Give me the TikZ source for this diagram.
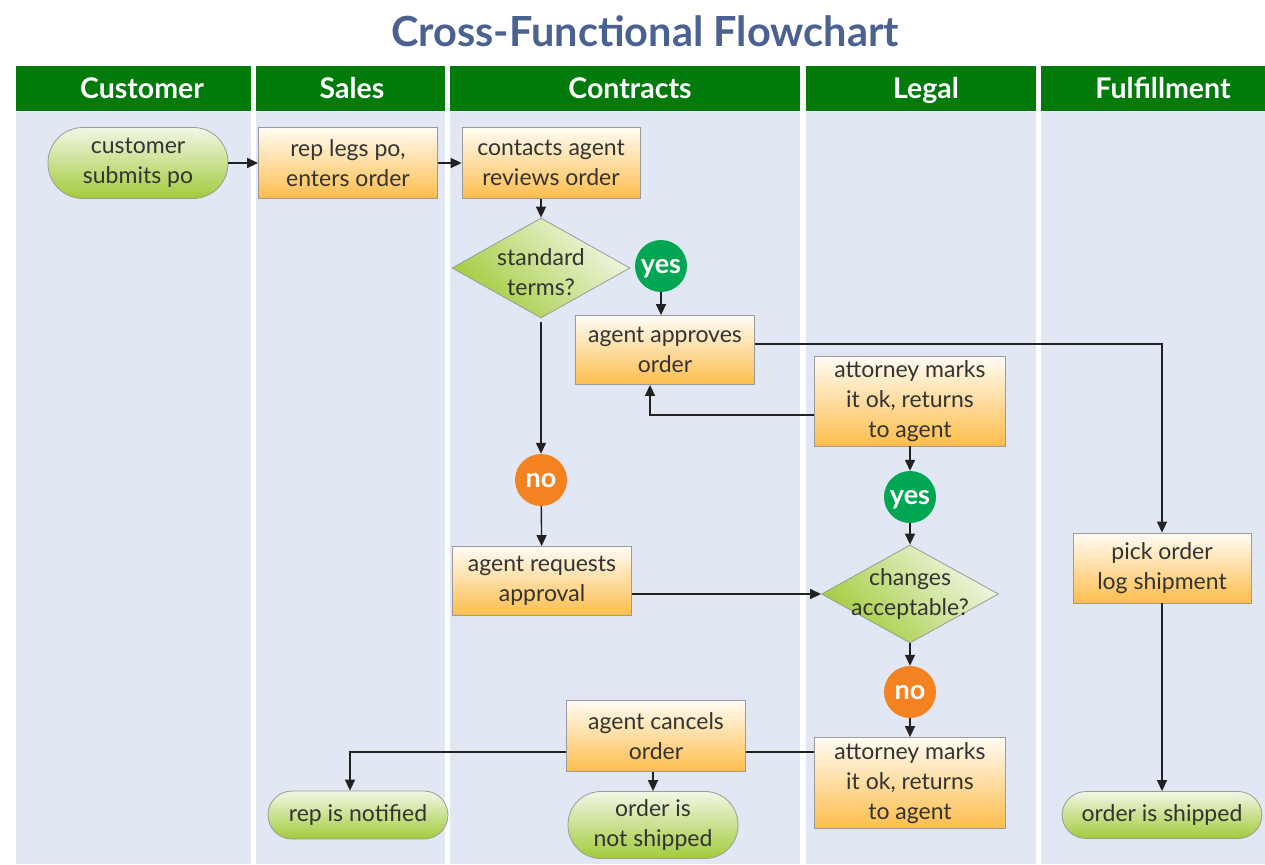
\documentclass[tikz,border=0pt]{standalone}
\usepackage{fontspec}
\setmainfont{Lato}
\usetikzlibrary{arrows.meta,shapes.geometric,shapes.misc,calc}
\definecolor{titleblue}{HTML}{4A6191}
\definecolor{hdrgreen}{HTML}{007A0A}
\definecolor{lanebg}{HTML}{E1E8F4}
\definecolor{txt}{HTML}{333333}
\definecolor{orangeB}{HTML}{FDBD4C}
\definecolor{orangeT}{HTML}{FFFCF4}
\definecolor{greenB}{HTML}{A2CB3A}
\definecolor{greenT}{HTML}{F1F7E6}
\definecolor{yesgreen}{HTML}{00A651}
\definecolor{noorange}{HTML}{F58220}
\definecolor{edgegray}{HTML}{9A9A9A}
\definecolor{linec}{HTML}{222222}
\tikzset{
  lanehdr/.style={fill=hdrgreen},
  lanebody/.style={fill=lanebg},
  hdrtext/.style={anchor=base,text=white,font=\bfseries\fontsize{28.5}{30}\selectfont},
  bodyfont/.style={text=txt,align=center,font=\fontsize{23}{30}\selectfont},
  lowtext/.style={execute at begin node={\rule{0pt}{27pt}}},
  procbox/.style={rectangle,draw=edgegray,line width=0.8pt,top color=orangeT,bottom color=orangeB,
     bodyfont,inner sep=0pt,lowtext},
  termbox/.style={rectangle,rounded corners=24pt,draw=edgegray,line width=0.8pt,top color=greenT,bottom color=greenB,
     bodyfont,inner sep=0pt},
  decbox/.style={diamond,draw=edgegray,line width=0.8pt,shading=axis,left color=greenB,right color=greenT,shading angle=135,
     inner sep=0pt,aspect=1.78},
  dectext/.style={bodyfont},
  yesdot/.style={circle,fill=yesgreen,text=white,font=\bfseries\fontsize{27}{28}\selectfont,minimum size=52pt,inner sep=0pt,text height=14pt,text depth=0pt},
  nodot/.style={circle,fill=noorange,text=white,font=\bfseries\fontsize{27}{28}\selectfont,minimum size=52pt,inner sep=0pt,text height=14pt,text depth=0pt},
  conn/.style={draw=linec,line width=1.4pt},
  arr/.style={conn,-{Triangle[length=11pt,width=10pt]}},
}
\begin{document}
\begin{tikzpicture}[x=1pt,y=-1pt]
\useasboundingbox (0,0) rectangle (1265,864);
\fill[white] (0,0) rectangle (1265,864);
% title
\node[text=titleblue,font=\bfseries\fontsize{41.5}{44}\selectfont] (title) at (645,31) {Cross-Functional Flowchart};
% lanes
\fill[lanehdr] (16,66) rectangle (251,111);
\fill[lanehdr] (256,66) rectangle (445,111);
\fill[lanehdr] (450,66) rectangle (800,111);
\fill[lanehdr] (806,66) rectangle (1036,111);
\fill[lanehdr] (1041,66) rectangle (1265,111);
\fill[lanebody] (16,112) rectangle (251,864);
\fill[lanebody] (256,112) rectangle (445,864);
\fill[lanebody] (450,112) rectangle (800,864);
\fill[lanebody] (806,112) rectangle (1036,864);
\fill[lanebody] (1041,112) rectangle (1265,864);
\node[hdrtext] (h1) at (142,99) {Customer};
\node[hdrtext] (h2) at (352,99) {Sales};
\node[hdrtext] (h3) at (630,99) {Contracts};
\node[hdrtext] (h4) at (926,99) {Legal};
\node[hdrtext] (h5) at (1163,99) {Fulfillment};
% nodes
\node[termbox,lowtext,minimum width=180pt,minimum height=71pt,rounded corners=35pt] (n1) at (138,163) {customer\\submits po};
\node[procbox,minimum width=179pt,minimum height=71pt] (n2) at (348,163) {rep legs po,\\enters order};
\node[procbox,minimum width=178pt,minimum height=71pt] (n3) at (551,163) {contacts agent\\reviews order};
\node[decbox,minimum width=178pt,minimum height=100pt] (d1) at (541,268) {};
\node[dectext] (d1t) at (541,272) {standard\\terms?};
\node[yesdot] (y1) at (661,266) {yes};
\node[procbox,minimum width=179pt,minimum height=69pt] (n4) at (665,350) {agent approves\\order};
\node[procbox,minimum width=191pt,minimum height=90pt] (n5) at (910,401) {attorney marks\\it ok, returns\\to agent};
\node[nodot] (no1) at (541,480) {no};
\node[procbox,minimum width=179pt,minimum height=69pt] (n6) at (542,581) {agent requests\\approval};
\node[yesdot] (y2) at (910,497) {yes};
\node[decbox,minimum width=177pt,minimum height=98pt] (d2) at (910,594) {};
\node[dectext] (d2t) at (910,594) {changes\\acceptable?};
\node[nodot] (no2) at (910,692) {no};
\node[procbox,minimum width=191pt,minimum height=91pt] (n7) at (910,783) {attorney marks\\it ok, returns\\to agent};
\node[procbox,minimum width=179pt,minimum height=71pt] (n8) at (656,736) {agent cancels\\order};
\node[termbox,minimum width=180pt,minimum height=48pt] (t1) at (358,815) {rep is notified};
\node[termbox,lowtext,minimum width=170pt,minimum height=67pt,rounded corners=33pt] (t2) at (653,825) {order is\\not shipped};
\node[procbox,minimum width=178pt,minimum height=70pt] (n9) at (1162,568) {pick order\\log shipment};
\node[termbox,minimum width=200pt,minimum height=47pt] (t3) at (1162,815) {order is shipped};
% connectors
\draw[arr] (n1) -- (n2);
\draw[arr] (n2) -- (n3);
\draw[arr] (n3.south -| d1.north) -- (d1.north);
\draw[arr] ([yshift=-4pt]d1.south) -- (no1.north);
\draw[arr] (no1) -- (n6);
\draw[arr] (y1.south) -- (y1.south |- n4.north);
\coordinate (c1) at ([yshift=6pt]n4.east);
\draw[arr] (c1) -| (n9.north);
\coordinate (c2) at ([yshift=-14pt]n5.west);
\draw[arr] (c2) -| ([xshift=-15pt]n4.south);
\draw[arr] (n5) -- (y2);
\draw[arr] (y2) -- (d2.north);
\draw[arr] (n6.east |- d2.west) -- (d2.west);
\draw[arr] (d2.south) -- (no2);
\draw[arr] (no2) -- (n7);
\coordinate (c3) at ([yshift=-16pt]n8.east);
\draw[conn] (c3) -- (c3 -| n7.west);
\coordinate (c4) at ([yshift=-16pt]n8.west);
\draw[arr] (c4) -| ([xshift=-8pt]t1.north);
\draw[arr] (n8.south -| t2.north) -- (t2.north);
\draw[arr] (n9) -- (t3);
\end{tikzpicture}
\end{document}
